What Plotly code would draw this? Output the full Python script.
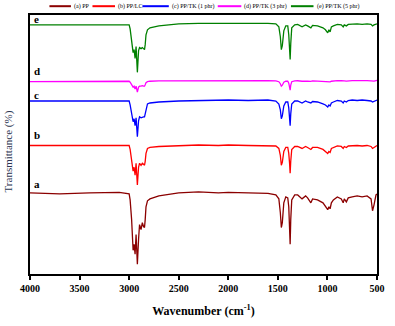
import plotly.graph_objects as go

# Wavenumber grid (cm^-1)
wavenumber = [4000, 3700, 3400, 3100, 3000, 2990, 2975, 2960, 2950, 2940, 2930, 2917,
              2905, 2895, 2880, 2867, 2855, 2845, 2838, 2830, 2815, 2790, 2700, 2500,
              2300, 2100, 2000, 1800, 1600, 1520, 1490, 1475, 1465, 1455, 1440, 1420,
              1400, 1390, 1382, 1376, 1370, 1360, 1330, 1300, 1256, 1220, 1200, 1167,
              1150, 1100, 1045, 1020, 997, 985, 973, 960, 940, 900, 860, 841, 830, 809,
              790, 750, 700, 650, 600, 560, 545, 530, 510, 500]

# Offset transmittance (arbitrary units, stacked)
pp = [82, 81, 82, 82.5, 81, 75, 55, 24, 30, 20, 40, 10,
      35, 50, 45, 52, 48, 47, 55, 68, 74, 76, 79, 82,
      83, 82, 82.5, 82, 81.5, 80, 76, 62, 47, 52, 72, 78,
      77, 68, 50, 30, 55, 75, 80, 80, 76, 79, 77, 72,
      76, 75, 72, 68, 65, 68, 66, 72, 75, 78, 76, 72, 76, 73,
      77, 78, 79, 78, 79, 76, 64, 70, 80, 81]
pp_b = [130, 130, 130.5, 130.5, 130, 126, 115, 104, 108, 100, 112, 90,
        108, 112, 110, 112, 111, 110, 114, 122, 127, 128, 129, 130,
        130.5, 130, 130.5, 130, 130, 129.5, 127, 120, 110, 113, 124, 128,
        128, 122, 112, 102, 114, 126, 129, 129, 127, 129, 128, 126,
        128, 128, 126, 124, 122, 124, 123, 127, 128, 129.5, 129, 127, 129, 128,
        129.5, 130, 130, 129.5, 130, 129, 127, 128, 130, 130]
pp_tk1 = [175, 175, 175.5, 175.5, 175, 171, 162, 154, 157, 150, 158, 139,
          155, 159, 158, 159, 159, 159, 162, 168, 172, 173, 174, 175,
          175.5, 176, 176, 175.5, 176, 175, 172, 166, 157, 160, 170, 174,
          174, 168, 160, 150, 162, 172, 175, 175, 173, 175, 174, 173,
          174.5, 174, 172, 171, 169, 171, 170, 173, 174, 175.5, 175, 173, 175, 174,
          175.5, 176, 175.5, 176, 175.5, 175, 174, 174.5, 175.5, 176]
pp_tk3 = [194.7, 195, 195, 195.3, 195, 194, 191, 189, 190, 187, 190, 184,
          189, 190, 190, 190.5, 190, 190, 191.5, 193.5, 194.5, 195, 195.3, 195.5,
          195.5, 195.7, 195.7, 195.5, 195.7, 195.3, 194.5, 192.5, 190, 191, 194, 195,
          195, 193, 190, 186, 191, 194.5, 195.3, 195.5, 195, 195.5, 195.2, 194.8,
          195.3, 195.2, 194.8, 194.5, 194, 194.5, 194.3, 195, 195.3, 195.6, 195.5, 195, 195.4, 195.1,
          195.5, 195.7, 195.6, 195.8, 195.6, 195.4, 195, 195.2, 195.6, 195.8]
pp_tk5 = [252, 252, 252.5, 252.5, 252, 248, 238, 224, 227, 218, 230, 204,
          226, 229, 228, 229, 228, 227, 232, 242, 247, 249, 251, 253,
          253.5, 253.5, 254, 254, 253.5, 253, 250, 240, 227, 231, 246, 251,
          251, 242, 230, 217, 233, 249, 252, 252.5, 250, 252, 251, 249,
          251.5, 251, 249, 247, 244, 247, 245, 250, 251, 252.5, 252, 250, 252, 251,
          252.5, 253, 253, 252.5, 253, 252.5, 251, 252, 253, 253]

series_names = ["(a) PP", "(b) PP/LC", "(c) PP/TK (1 phr)", "(d) PP/TK (3 phr)", "(e) PP/TK (5 phr)"]
series_vals = [pp, pp_b, pp_tk1, pp_tk3, pp_tk5]
series_colors = ["#8B0000", "#FF0000", "#0000FF", "#FF00FF", "#008000"]
series_labels = ["a", "b", "c", "d", "e"]
label_x = 3930
label_shift = [1, 2, -2, 3, -2]

# legend layout (paper fractions): sample line start/end for each entry
legend_line_start = [0.056, 0.180, 0.324, 0.541, 0.752]
legend_line_end = [0.118, 0.245, 0.400, 0.609, 0.817]
legend_y = 1.034

fig = go.Figure()
for name, vals, color, lab, x0, x1, ys in zip(series_names, series_vals, series_colors,
                                               series_labels, legend_line_start,
                                               legend_line_end, label_shift):
    fig.add_trace(go.Scatter(x=wavenumber, y=vals, mode="lines", name=name,
                             line=dict(color=color, width=1.3), showlegend=False))
    fig.add_annotation(x=label_x, y=vals[0], text="<b>" + lab + "</b>", showarrow=False,
                       yanchor="bottom", yshift=ys,
                       font=dict(family="Liberation Serif", size=11, color="black"))
    fig.add_shape(type="line", xref="paper", yref="paper", x0=x0, x1=x1,
                  y0=legend_y, y1=legend_y, line=dict(color=color, width=2))
    fig.add_annotation(xref="paper", yref="paper", x=x1 + 0.003, y=legend_y, text=name,
                       showarrow=False, xanchor="left", yanchor="middle",
                       font=dict(family="Liberation Serif", size=6, color="black"))

# y-axis title as rotated text
fig.add_annotation(xref="paper", yref="paper", x=-0.062, y=0.475, text="Transmittance (%)",
                   textangle=-90, showarrow=False, xanchor="center", yanchor="middle",
                   font=dict(family="Liberation Serif", size=11, color="#2a3350"))

fig.update_layout(
    width=395, height=326,
    margin=dict(l=30, r=10, t=15, b=49),
    paper_bgcolor="white", plot_bgcolor="white",
    showlegend=False,
    font=dict(family="Liberation Serif", color="black"),
)
fig.update_xaxes(range=[4000, 500], tickvals=[4000, 3500, 3000, 2500, 2000, 1500, 1000, 500],
                 ticks="outside", ticklen=4, tickwidth=1.5, tickcolor="black",
                 showline=True, linewidth=2, linecolor="black", mirror=True,
                 showgrid=False, zeroline=False,
                 tickfont=dict(family="Liberation Serif", size=10, color="black", weight="bold"),
                 title=dict(text="<b>Wavenumber (cm<sup>-1</sup>)</b>", standoff=14,
                            font=dict(family="Liberation Serif", size=12, color="black")))
fig.update_yaxes(range=[0, 262], showticklabels=False, ticks="",
                 showline=True, linewidth=2, linecolor="black", mirror=True,
                 showgrid=False, zeroline=False)

fig.write_html("out.html")
